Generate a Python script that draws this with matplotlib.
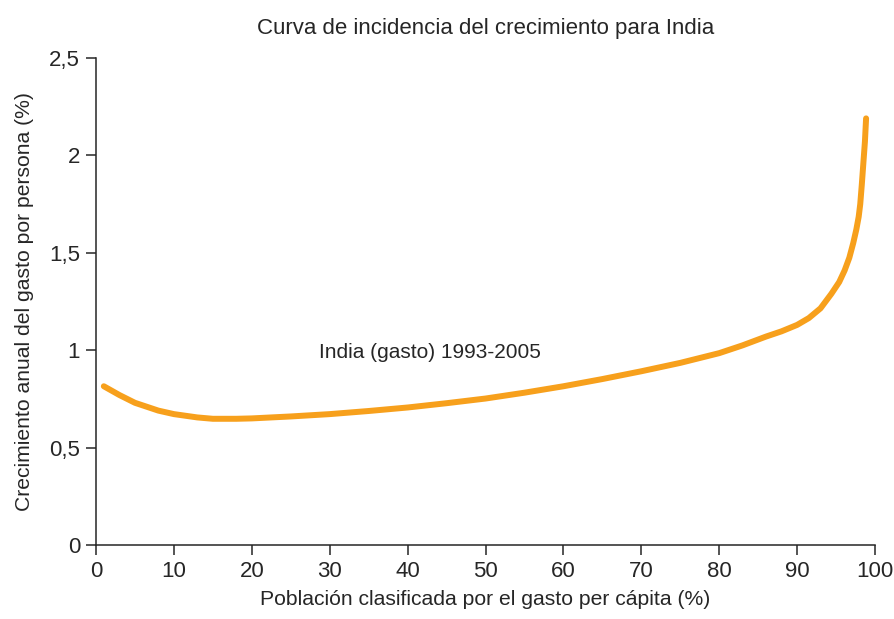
import matplotlib.pyplot as plt

# Growth incidence curve, India 1993-2005 (per-capita expenditure)
pct = [1, 3, 5, 8, 10, 13, 15, 18, 20, 25, 30, 35, 40, 45, 50, 55, 60, 65, 70,
       75, 80, 83, 86, 88, 90, 91.5, 93, 94.4, 95.4, 96.1, 96.7, 97.2, 97.6,
       97.9, 98.1, 98.3, 98.5, 98.7, 98.85]
growth = [0.815, 0.77, 0.73, 0.69, 0.672, 0.655, 0.648, 0.648, 0.65, 0.66,
          0.672, 0.688, 0.706, 0.728, 0.752, 0.782, 0.815, 0.852, 0.892,
          0.935, 0.985, 1.025, 1.07, 1.097, 1.13, 1.165, 1.215, 1.29, 1.35,
          1.41, 1.475, 1.55, 1.62, 1.685, 1.75, 1.85, 1.96, 2.07, 2.19]

yticks = [0, 0.5, 1, 1.5, 2, 2.5]
ytick_labels = ['0', '0,5', '1', '1,5', '2', '2,5']
xticks = list(range(0, 101, 10))

text_col = '#262626'
plt.rcParams['font.family'] = ['Liberation Sans', 'DejaVu Sans']

fig = plt.figure(figsize=(8.95, 6.19), dpi=100)
ax = fig.add_axes([0.1073, 0.1195, 0.8704, 0.7868])

ax.plot(pct, growth, color='#F7A01C', lw=4.3, solid_capstyle='round',
        solid_joinstyle='round')
ax.text(28.6, 0.99, 'India (gasto) 1993-2005', fontsize=15, color=text_col,
        va='center', ha='left')

ax.set_xlim(0, 100)
ax.set_ylim(0, 2.5)
ax.set_xticks(xticks)
ax.set_yticks(yticks)
ax.set_yticklabels(ytick_labels)
ax.tick_params(colors=text_col, labelsize=16, length=7.5, width=1.1, pad=4)
for side in ['top', 'right']:
    ax.spines[side].set_visible(False)
for side in ['left', 'bottom']:
    ax.spines[side].set_color(text_col)
    ax.spines[side].set_linewidth(1.1)

ax.set_title('Curva de incidencia del crecimiento para India', fontsize=16,
             color=text_col, pad=17)
ax.set_xlabel('Población clasificada por el gasto per cápita (%)', fontsize=15.2,
              color=text_col, labelpad=6)
ax.set_ylabel('Crecimiento anual del gasto por persona (%)', fontsize=15.2,
              color=text_col, labelpad=11)

fig.savefig('out.png', dpi=100)
